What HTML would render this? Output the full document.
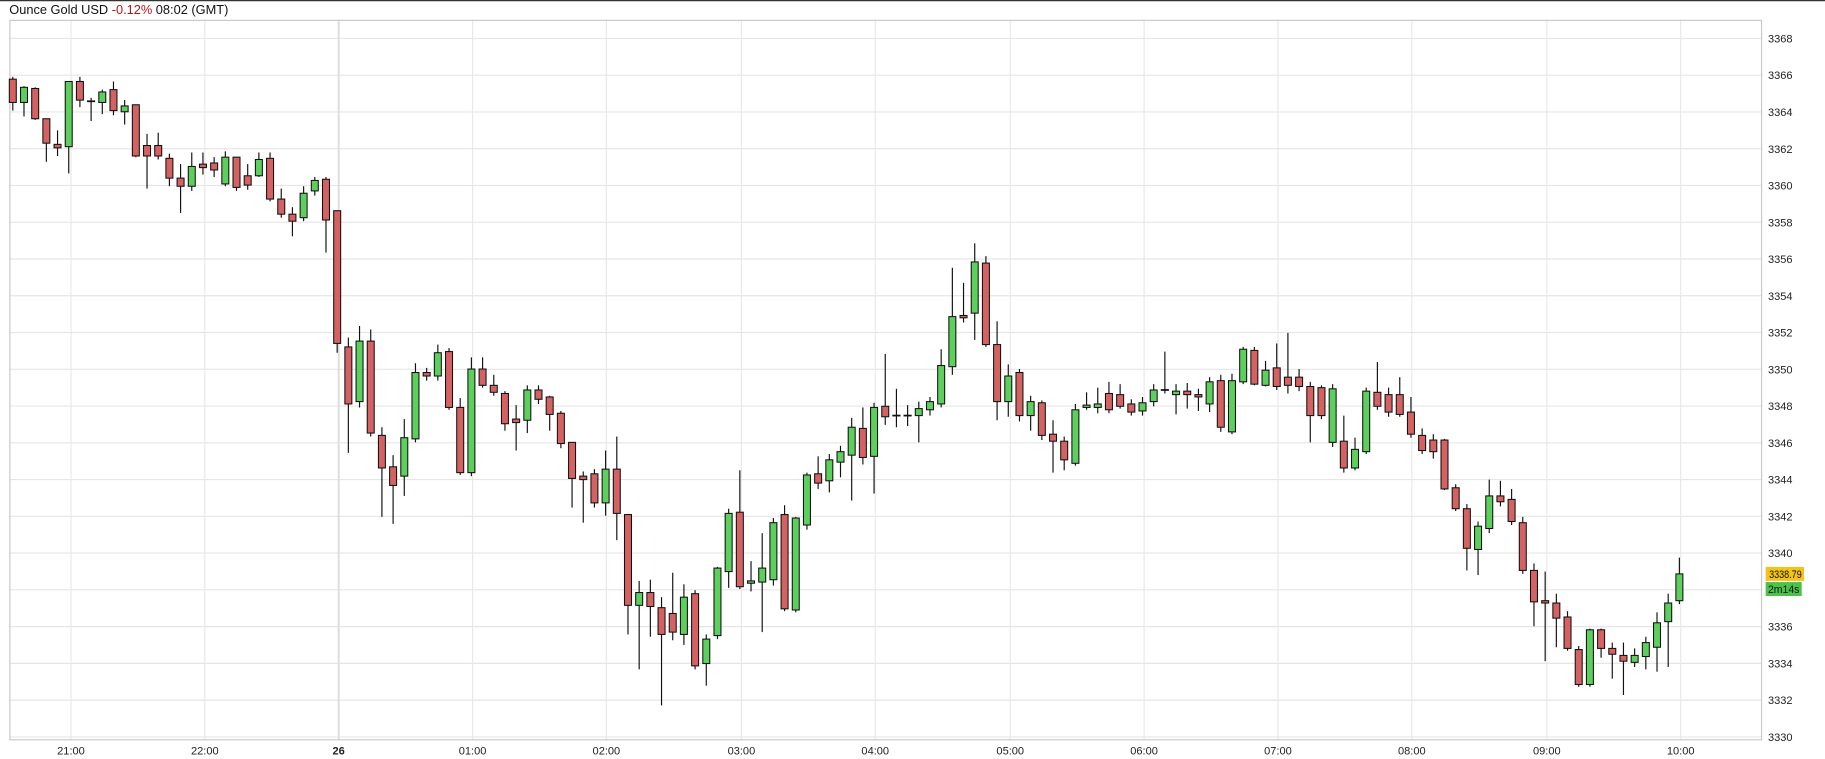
<!DOCTYPE html>
<html><head><meta charset="utf-8"><style>
html,body{margin:0;padding:0;background:#fff;width:1825px;height:759px;overflow:hidden}
svg{display:block}
text{font-family:"Liberation Sans",Arial,sans-serif}
</style></head><body>
<svg id="s" width="1825" height="759" viewBox="0 0 1568 652" preserveAspectRatio="none" xmlns="http://www.w3.org/2000/svg">
<rect x="0" y="0" width="1568" height="652" fill="#fff"/>
<line x1="0" y1="0.5" x2="1568" y2="0.5" stroke="#333" stroke-width="1.2"/>
<text x="8" y="12" font-size="11" fill="#111">Ounce Gold USD <tspan fill="#b01818">-0.12%</tspan> 08:02 (GMT)</text>
<g id="grid"></g>
<rect x="8.5" y="17.5" width="1505" height="618" fill="none" stroke="#c8c8c8" stroke-width="1"/>
<g id="c"></g>
<g id="ax" font-size="9.5" fill="#222"></g>
<rect x="1517" y="487" width="33" height="12" fill="#f2c318"/>
<text x="1520" y="496.5" font-size="9.5" textLength="28" lengthAdjust="spacingAndGlyphs" fill="#111">3338.79</text>
<rect x="1517" y="500" width="31" height="12" fill="#4cc24c"/>
<text x="1519" y="509.5" font-size="9.5" textLength="27" lengthAdjust="spacingAndGlyphs" fill="#111">2m14s</text>
</svg>
<script>
var NS="http://www.w3.org/2000/svg";
function el(p,t,a,txt){var e=document.createElementNS(NS,t);for(var k in a)e.setAttribute(k,a[k]);if(txt!==undefined)e.textContent=txt;p.appendChild(e);return e;}
var g=document.getElementById('grid'),ax=document.getElementById('ax');
for(var p=3368;p>=3330;p-=2){var y=33+(3368-p)*15.79;el(g,'line',{x1:8,x2:1513,y1:y,y2:y,stroke:'#e6e6e6','stroke-width':1});el(ax,'text',{x:1519,y:y+3.5},String(p));}
var xl=[[61,'21:00'],[176,'22:00'],[291,'26'],[406,'01:00'],[521,'02:00'],[637,'03:00'],[752,'04:00'],[868,'05:00'],[983,'06:00'],[1098,'07:00'],[1213,'08:00'],[1329,'09:00'],[1444,'10:00']];
xl.forEach(function(v){el(g,'line',{x1:v[0],x2:v[0],y1:17,y2:636,stroke:v[1]=='26'?'#dcdcdc':'#e8e8e8','stroke-width':v[1]=='26'?1.6:1});var t=el(ax,'text',{x:v[0],y:648,'text-anchor':'middle'},v[1]);if(v[1]=='26')t.setAttribute('font-weight','bold');});
var d=[[68,88,66,95],[88,75,74,100],[76,102,75,103],[102,123,102,139],[124,127,112,134],[126,70,70,149],[70,86,66,92],[87,87,84,104],[88,79,77,98],[77,95,70,99],[96,91,86,107],[90,134,90,135],[125,134,115,162],[125,134,114,137],[136,153,132,160],[153,160,141,183],[160,143,131,164],[141,144,131,150],[140,146,135,152],[158,135,130,160],[135,161,135,164],[151,159,141,163],[151,137,131,152],[136,171,131,173],[171,184,162,187],[184,190,178,203],[187,166,160,190],[164,155,152,168],[154,189,152,217],[181,295,181,303],[298,347,290,389],[345,293,280,350],[293,372,283,375],[374,402,367,444],[401,417,391,450],[409,376,360,426],[377,320,312,380],[320,323,316,327],[323,303,296,327],[302,350,299,352],[350,406,342,408],[406,317,307,409],[317,331,307,333],[331,337,322,340],[338,364,336,370],[360,363,348,387],[361,335,331,372],[335,343,331,347],[341,356,340,370],[355,381,353,385],[380,411,380,436],[409,412,405,449],[407,432,403,436],[432,403,387,443],[403,441,375,464],[442,520,442,545],[520,509,499,575],[509,521,498,547],[522,545,513,606],[527,543,492,550],[545,513,502,554],[510,572,507,575],[570,549,545,589],[546,488,487,549],[491,441,437,505],[440,504,404,506],[501,499,482,508],[500,488,458,543],[498,449,445,503],[442,523,434,525],[524,445,444,526],[451,408,406,455],[407,415,392,420],[413,395,390,423],[397,388,383,410],[391,367,359,430],[368,393,350,399],[392,350,346,424],[349,358,304,365],[357,357,334,367],[357,357,348,366],[357,351,345,380],[352,345,341,357],[347,314,300,350],[315,272,230,322],[271,273,243,277],[269,225,209,292],[226,296,220,298],[296,345,276,361],[345,323,313,358],[320,357,317,362],[357,345,340,370],[346,374,344,378],[373,379,361,406],[379,395,375,404],[398,352,347,400],[350,348,337,352],[350,347,333,355],[338,352,328,355],[339,349,330,351],[347,354,343,357],[353,346,341,357],[345,335,330,349],[335,335,302,338],[339,336,330,356],[336,339,329,351],[339,341,334,353],[347,328,324,354],[327,367,322,371],[371,327,321,373],[328,300,298,330],[301,330,298,331],[331,318,310,332],[316,332,295,335],[324,331,286,338],[324,332,317,336],[332,357,328,380],[333,357,331,360],[380,334,330,384],[379,402,357,406],[402,386,376,404],[388,336,333,390],[337,349,311,352],[339,354,333,358],[339,356,324,358],[354,373,341,376],[374,387,368,390],[378,388,373,394],[378,420,377,421],[419,437,416,439],[437,471,433,490],[472,452,448,494],[454,426,412,458],[426,431,413,435],[429,448,420,451],[449,490,444,493],[490,517,484,538],[516,518,491,568],[518,531,510,556],[530,557,525,559],[558,588,555,590],[588,541,540,590],[541,557,540,565],[557,562,552,583],[563,568,552,597],[569,563,557,573],[564,552,547,575],[556,535,526,577],[534,518,510,573],[516,493,479,519]];
var c=document.getElementById('c');
d.forEach(function(v,i){var x=11+9.61*i;var o=v[0],cl=v[1];var top=Math.min(o,cl),bot=Math.max(o,cl);var green=cl<o;
el(c,'line',{x1:x,x2:x,y1:v[2],y2:v[3],stroke:'#111','stroke-width':1});
if(bot-top<1.5){el(c,'line',{x1:x-3.5,x2:x+3.5,y1:top,y2:top,stroke:'#111','stroke-width':1.5});}
else el(c,'rect',{x:x-3,y:top,width:6,height:bot-top,fill:green?'#5ccf5c':'#d46262',stroke:'#111','stroke-width':0.9});});
</script>
</body></html>
